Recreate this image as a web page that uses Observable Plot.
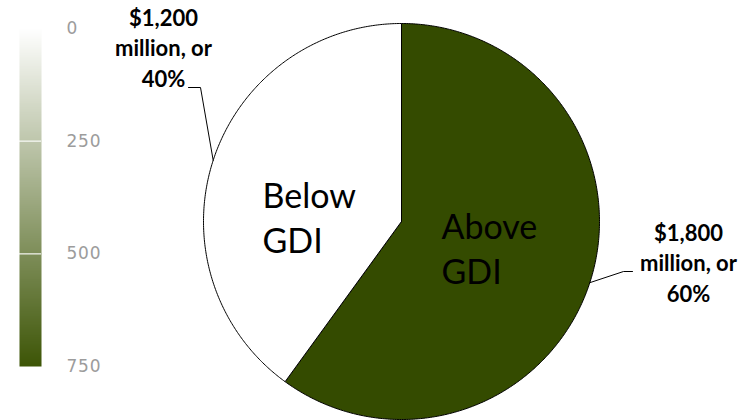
<!DOCTYPE html>
<html>
<head>
<meta charset="utf-8">
<script src="https://cdn.jsdelivr.net/npm/d3@7"></script>
<script src="https://cdn.jsdelivr.net/npm/@observablehq/plot@0.6"></script>
<style>
  html, body { margin: 0; padding: 0; background: #fff; }
  #chart { position: relative; width: 756px; height: 420px; overflow: hidden; }
  #chart svg { position: absolute; left: 0; top: 0; }
</style>
</head>
<body>
<div id="chart"></div>
<script>
// Spending split around GDI, $ million
const sliceNames = ["Above GDI", "Below GDI"];
const sliceValues = [1800, 1200];
const sliceShares = [60, 40];
const sliceColors = ["#344b00", "#ffffff"];

// Colour ramp legend
const legendTicks = [0, 250, 500, 750];
const legendDomain = [0, 750];
const legendColors = ["#ffffff", "#3d5506"];

// Layout, in pixels relative to the pie centre (y pointing up)
const R = 198;
const nameLabelPos = [[40, -62], [-139, -31]];
const valueLabelPos = [[287, -80], [-238, 135]];
const leaderElbow = [[222, -50], [-201, 134]];
const leaderTail = [9, -12];

const slices = sliceNames.map((name, i) => ({
  name,
  value: sliceValues[i],
  share: sliceShares[i],
  color: sliceColors[i]
}));

const arcs = d3.pie().sort(null).value(d => d.value)(slices);

// Closed outline of each wedge: centre, arc, centre
const piePoints = arcs.flatMap(a => {
  const n = Math.ceil((a.endAngle - a.startAngle) / (Math.PI / 360));
  const pts = [{name: a.data.name, color: a.data.color, x: 0, y: 0}];
  for (let k = 0; k <= n; ++k) {
    const t = a.startAngle + (a.endAngle - a.startAngle) * k / n;
    pts.push({name: a.data.name, color: a.data.color, x: R * Math.sin(t), y: R * Math.cos(t)});
  }
  pts.push({name: a.data.name, color: a.data.color, x: 0, y: 0});
  return pts;
});

// Leader lines from the middle of each wedge's rim to its value label
const leaderPoints = arcs.flatMap((a, i) => {
  const m = (a.startAngle + a.endAngle) / 2;
  const [ex, ey] = leaderElbow[i];
  return [
    {name: a.data.name, x: R * Math.sin(m), y: R * Math.cos(m)},
    {name: a.data.name, x: ex, y: ey},
    {name: a.data.name, x: ex + leaderTail[i], y: ey}
  ];
});

const fmt = d3.format(",");
const valueText = d => `$${fmt(d.value)}\nmillion, or\n${d.share}%`;

const pie = Plot.plot({
  width: 756,
  height: 420,
  margin: 0,
  x: {domain: [-401, 355], axis: null},
  y: {domain: [-199, 221], axis: null},
  color: {type: "identity"},
  style: {fontFamily: "Lato, sans-serif", background: "transparent", overflow: "visible"},
  marks: [
    Plot.line(piePoints, {x: "x", y: "y", z: "name", fill: "color", stroke: "black", strokeWidth: 1}),
    Plot.line(leaderPoints, {x: "x", y: "y", z: "name", stroke: "black", strokeWidth: 1}),
    Plot.text(slices, {
      x: (d, i) => nameLabelPos[i][0],
      y: (d, i) => nameLabelPos[i][1],
      text: d => d.name.replace(" ", "\n"),
      textAnchor: "start",
      lineAnchor: "bottom",
      lineHeight: 1.3,
      fontSize: 34,
      fill: "black"
    }),
    Plot.text(slices, {
      x: (d, i) => valueLabelPos[i][0],
      y: (d, i) => valueLabelPos[i][1],
      text: valueText,
      textAnchor: "middle",
      lineAnchor: "bottom",
      lineHeight: 1.37,
      fontSize: 22,
      fontWeight: "bold",
      fill: "black"
    })
  ]
});

const legend = Plot.plot({
  width: 110,
  height: 420,
  marginLeft: 19,
  marginRight: 69,
  marginTop: 28,
  marginBottom: 54,
  x: {domain: [0, 1], axis: null},
  y: {domain: legendDomain, reverse: true, axis: null},
  color: {type: "linear", domain: legendDomain, range: legendColors, clamp: true},
  style: {fontFamily: "DejaVu Sans, sans-serif", fontSize: "17px", letterSpacing: "0.8px", background: "transparent", overflow: "visible"},
  marks: [
    Plot.raster({x1: 0, x2: 1, y1: -11, y2: 750, width: 1, height: 380, fill: (x, y) => y, imageRendering: "auto"}),
    Plot.ruleY([250, 500], {stroke: "white", strokeOpacity: 0.75, strokeWidth: 1.5}),
    Plot.axisY(legendTicks, {anchor: "right", tickSize: 0, tickPadding: 25, color: "#9c9c9c", label: null})
  ]
});

const chart = document.getElementById("chart");
chart.appendChild(pie);
chart.appendChild(legend);
</script>
</body>
</html>
